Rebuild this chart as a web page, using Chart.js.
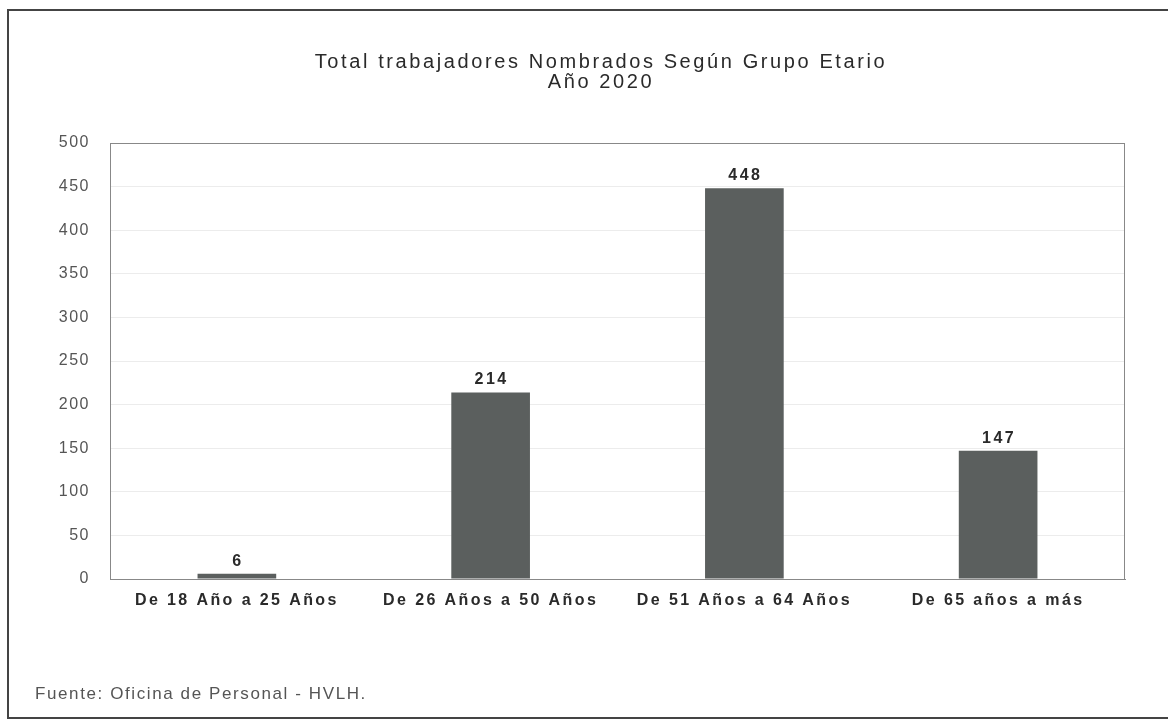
<!DOCTYPE html>
<html>
<head>
<meta charset="utf-8">
<script src="https://cdn.jsdelivr.net/npm/chart.js@4.4.0/dist/chart.umd.min.js"></script>
<style>
html,body{margin:0;padding:0;background:#fff;}
#wrap{width:1168px;height:722px;position:relative;}
canvas{display:block;}
</style>
</head>
<body>
<div id="wrap"><canvas id="c" width="1168" height="722"></canvas></div>
<script>
const titleLines = ["Total trabajadores Nombrados Según Grupo Etario", "Año 2020"];
const categories = ["De 18 Año a 25 Años", "De 26 Años a 50 Años", "De 51 Años a 64 Años", "De 65 años a más"];
const values = [6, 214, 448, 147];
const yTicks = [0, 50, 100, 150, 200, 250, 300, 350, 400, 450, 500];
const sourceText = "Fuente: Oficina de Personal - HVLH.";

const FONT = "'Liberation Sans', Arial, sans-serif";

const decor = {
  id: 'decor',
  beforeDraw(chart) {
    const ctx = chart.ctx;
    ctx.save();
    ctx.fillStyle = '#fff';
    ctx.fillRect(0, 0, chart.width, chart.height);
    ctx.strokeStyle = '#444';
    ctx.lineWidth = 2;
    ctx.beginPath();
    ctx.moveTo(1170, 10);
    ctx.lineTo(8, 10);
    ctx.lineTo(8, 718);
    ctx.lineTo(1170, 718);
    ctx.stroke();
    // title
    ctx.fillStyle = '#2a2a2a';
    ctx.font = '20px ' + FONT;
    ctx.textAlign = 'center';
    ctx.textBaseline = 'alphabetic';
    ctx.letterSpacing = '2.6px';
    ctx.fillText(titleLines[0], 601, 68);
    ctx.fillText(titleLines[1], 601, 88);
    // source
    ctx.fillStyle = '#555';
    ctx.font = '17px ' + FONT;
    ctx.textAlign = 'left';
    ctx.letterSpacing = '1.6px';
    ctx.fillText(sourceText, 35, 699);
    ctx.restore();
  },
  afterDatasetsDraw(chart) {
    const ctx = chart.ctx;
    const meta = chart.getDatasetMeta(0);
    ctx.save();
    ctx.fillStyle = '#2a2a2a';
    ctx.font = 'bold 16px ' + FONT;
    ctx.textAlign = 'center';
    ctx.textBaseline = 'alphabetic';
    ctx.letterSpacing = '2.5px';
    meta.data.forEach((bar, i) => {
      ctx.fillText(String(values[i]), bar.x + 1, bar.y - 8);
    });
    ctx.restore();
  }
};

const chart = new Chart(document.getElementById('c'), {
  type: 'bar',
  data: {
    labels: categories,
    datasets: [{
      data: values,
      backgroundColor: '#5b5f5e',
      borderWidth: 0,
      barPercentage: 0.31,
      categoryPercentage: 1.0
    }]
  },
  options: {
    responsive: false,
    animation: false,
    devicePixelRatio: 1,
    layout: { padding: { top: 143, right: 43, left: 0, bottom: 0 } },
    plugins: { legend: { display: false }, title: { display: false }, tooltip: { enabled: false } },
    scales: {
      x: {
        grid: { display: false, drawTicks: false },
        border: { display: true, color: '#888', width: 1 },
        ticks: {
          color: '#2a2a2a',
          font: { family: FONT, size: 16, weight: 'bold' },
          padding: 12,
          maxRotation: 0,
          autoSkip: false
        },
        afterFit(scale) { scale.height = 143; }
      },
      y: {
        min: 0, max: 500,
        afterBuildTicks(scale) { scale.ticks = yTicks.map(v => ({ value: v })); },
        grid: { color: '#ececec', lineWidth: 1, drawTicks: false },
        border: { display: true, color: '#888', width: 1 },
        ticks: {
          color: '#555',
          font: { family: FONT, size: 16 },
          padding: 20
        },
        afterFit(scale) { scale.width = 110; }
      }
    }
  },
  plugins: [decor, {
    id: 'frameRight',
    afterDraw(chart) {
      const a = chart.chartArea, ctx = chart.ctx;
      ctx.save();
      ctx.strokeStyle = '#888';
      ctx.lineWidth = 1;
      ctx.strokeRect(a.left + 0.5, a.top + 0.5, a.right - a.left - 1, a.bottom - a.top);
      ctx.restore();
    }
  }]
});

function withSpacing(scale, sp) {
  const orig = scale.drawLabels.bind(scale);
  scale.drawLabels = function(area) {
    const ctx = this.ctx;
    const prev = ctx.letterSpacing;
    ctx.letterSpacing = sp;
    orig(area);
    ctx.letterSpacing = prev || '0px';
  };
}
withSpacing(chart.scales.x, '2.4px');
withSpacing(chart.scales.y, '1.5px');
chart.draw();
</script>
</body>
</html>
